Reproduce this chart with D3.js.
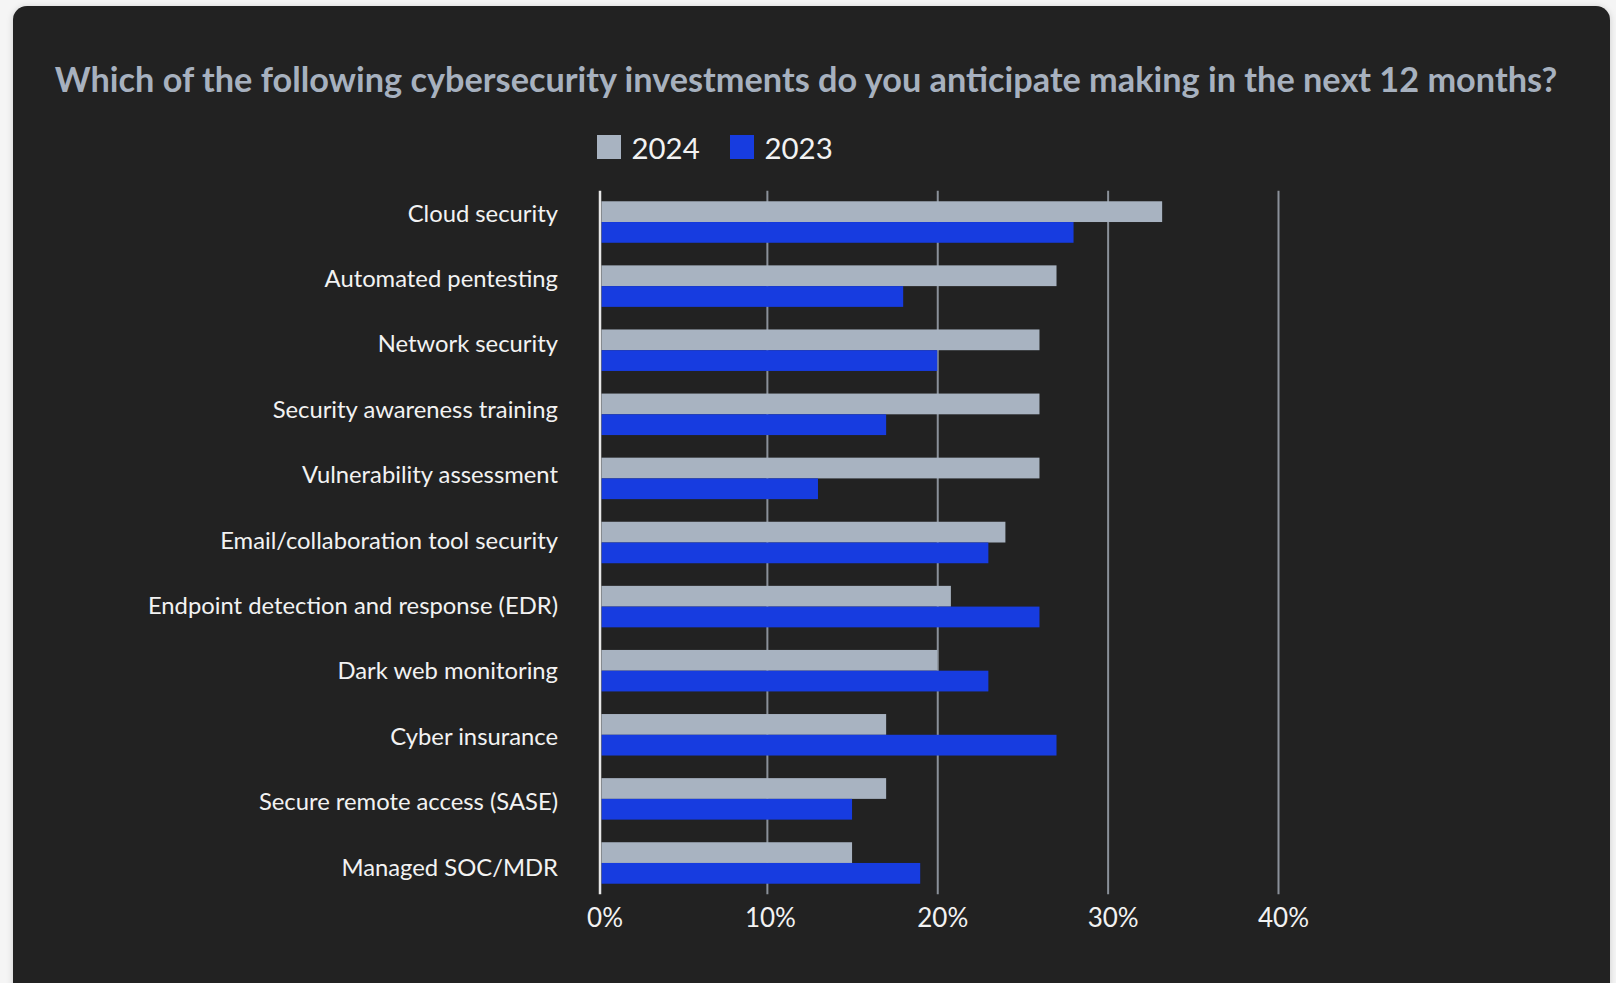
<!DOCTYPE html>
<html>
<head>
<meta charset="utf-8">
<script src="https://cdn.jsdelivr.net/npm/d3@7"></script>
<style>
  html, body { margin: 0; padding: 0; background: #f5f5f5; }
  svg { display: block; }
  text { font-family: Lato, "Noto Sans", sans-serif; }
</style>
</head>
<body>
<svg id="chart" width="1616" height="983"></svg>
<script>
// Survey responses, share of respondents (%)
const categories = [
  "Cloud security",
  "Automated pentesting",
  "Network security",
  "Security awareness training",
  "Vulnerability assessment",
  "Email/collaboration tool security",
  "Endpoint detection and response (EDR)",
  "Dark web monitoring",
  "Cyber insurance",
  "Secure remote access (SASE)",
  "Managed SOC/MDR"
];
const values2024 = [33.2, 27, 26, 26, 26, 24, 20.8, 20, 17, 17, 15];
const values2023 = [28, 18, 20, 17, 13, 23, 26, 23, 27, 15, 19];
const seriesNames = ["2024", "2023"];
const tickValues = [0, 10, 20, 30, 40];
const titleText = "Which of the following cybersecurity investments do you anticipate making in the next 12 months?";

const colors = { "2024": "#a8b3c1", "2023": "#173ce0" };

const rows = categories.map((c, i) => ({
  category: c,
  "2024": values2024[i],
  "2023": values2023[i]
}));

const svg = d3.select("#chart");

// card with soft shadow
const defs = svg.append("defs");
const shadow = defs.append("filter").attr("id", "cardShadow")
  .attr("x", "-5%").attr("y", "-5%").attr("width", "110%").attr("height", "110%");
shadow.append("feDropShadow").attr("dx", 0).attr("dy", 1).attr("stdDeviation", 3)
  .attr("flood-color", "#000").attr("flood-opacity", 0.18);

svg.append("rect")
  .attr("x", 13).attr("y", 6)
  .attr("width", 1597).attr("height", 1020)
  .attr("rx", 14)
  .attr("fill", "#212121")
  .attr("filter", "url(#cardShadow)");

// title, fitted to the card width
const title = svg.append("text")
  .attr("x", 806).attr("y", 92)
  .attr("text-anchor", "middle")
  .attr("font-weight", 700)
  .attr("font-size", 36)
  .attr("fill", "#a7b1bf")
  .text(titleText);
const tw = title.node().getComputedTextLength();
title.attr("font-size", 36 * 1503 / tw);

// scales
const x = d3.scaleLinear().domain([0, 40]).range([596.5, 1278]);
const y = d3.scaleBand().domain(categories).range([190.7, 894.3])
  .paddingInner(0.3526).paddingOuter(0.165);
const ySub = d3.scaleBand().domain(seriesNames).range([0, y.bandwidth()]);
const yLabel = d3.scalePoint().domain(categories).range([212.7, 866.7]);

// gridlines
const grid = svg.append("g")
  .attr("transform", `translate(0,${y.range()[0]})`)
  .call(d3.axisBottom(x).tickValues(tickValues.slice(1))
    .tickSize(y.range()[1] - y.range()[0]).tickFormat(""));
grid.select(".domain").remove();
grid.selectAll(".tick line").attr("stroke", "#8a9099").attr("stroke-width", 2);

// bars
const barStart = x(0) + 5;
const groups = svg.append("g").selectAll("g").data(rows).join("g")
  .attr("transform", d => `translate(0,${y(d.category)})`);
groups.selectAll("rect").data(d => seriesNames.map(s => ({ key: s, value: d[s] })))
  .join("rect")
  .attr("x", barStart)
  .attr("y", d => ySub(d.key))
  .attr("width", d => x(d.value) - barStart)
  .attr("height", ySub.bandwidth())
  .attr("fill", d => colors[d.key]);

// zero axis line
svg.append("line")
  .attr("x1", x(0) + 3.5).attr("x2", x(0) + 3.5)
  .attr("y1", y.range()[0]).attr("y2", y.range()[1])
  .attr("stroke", "#e6e6e6").attr("stroke-width", 2.5);

// category labels
const yAxis = svg.append("g")
  .attr("transform", "translate(558,0)")
  .call(d3.axisLeft(yLabel).tickSize(0).tickPadding(0));
yAxis.select(".domain").remove();
yAxis.selectAll("text")
  .attr("fill", "#f2f2f2")
  .attr("font-size", 23.8)
  .attr("font-family", "Lato, sans-serif")
  .attr("dy", "0.35em");

// value axis labels
const xAxis = svg.append("g")
  .attr("transform", "translate(5,908)")
  .call(d3.axisBottom(x).tickValues(tickValues).tickSize(0).tickPadding(0)
    .tickFormat(d => d + "%"));
xAxis.select(".domain").remove();
xAxis.selectAll("text")
  .attr("fill", "#f2f2f2")
  .attr("font-size", 26)
  .attr("font-family", "Lato, sans-serif")
  .attr("dy", "0.72em");
xAxis.selectAll(".tick").filter(d => d === 0).select("text").attr("dx", 3);
xAxis.selectAll(".tick").filter(d => d === 10).select("text").attr("dx", -2);

// legend
const legendX = [597, 730];
const legend = svg.append("g").selectAll("g").data(seriesNames).join("g")
  .attr("transform", (d, i) => `translate(${legendX[i]},135)`);
legend.append("rect").attr("width", 24).attr("height", 24)
  .attr("fill", d => colors[d]);
legend.append("text")
  .attr("x", 34.5).attr("y", 24)
  .attr("fill", "#f2f2f2")
  .attr("font-size", 29.4)
  .text(d => d);
</script>
</body>
</html>
